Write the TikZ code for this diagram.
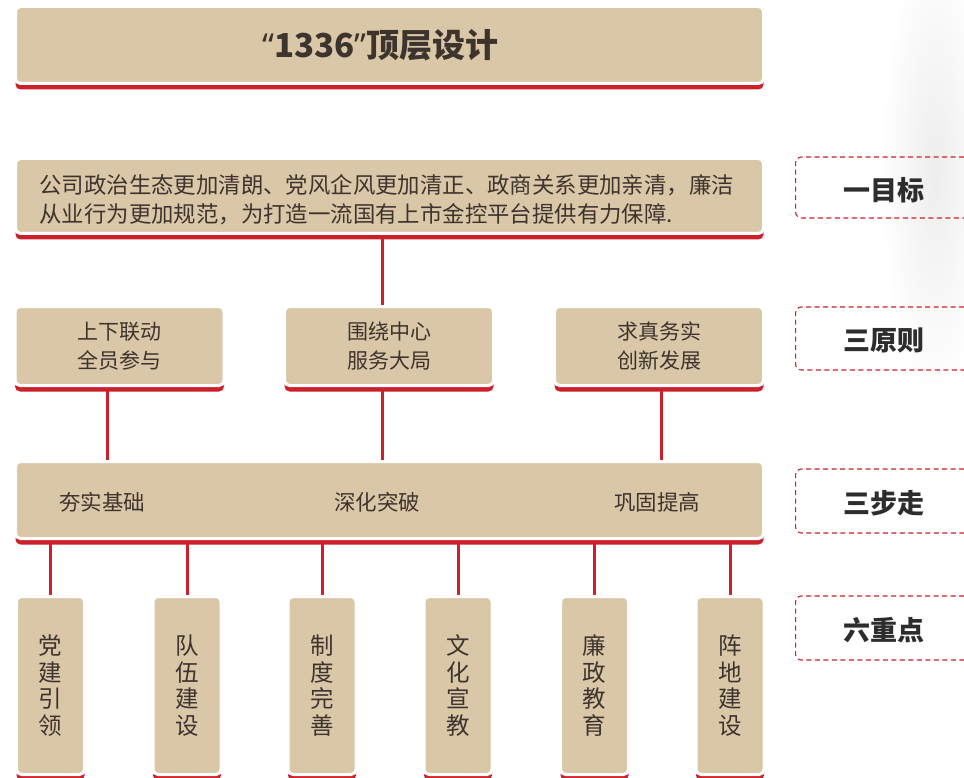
\documentclass[tikz,border=0pt]{standalone}
\usepackage{fontspec}
\setmainfont{Noto Sans CJK SC}
\newfontfamily\latinq{Noto Sans}
\usetikzlibrary{backgrounds}
\definecolor{tanfill}{RGB}{217,199,168}
\definecolor{bred}{RGB}{204,32,42}
\definecolor{txt}{RGB}{62,52,46}
\definecolor{lbl}{RGB}{45,45,45}
\tikzset{
  tanbox/.style={fill=tanfill, draw=white, line width=3pt, rounded corners=5pt,
    inner sep=0pt, text=txt,
    preaction={fill=bred, draw=none, transform canvas={yshift=-6pt}}},
  conn/.style={draw=bred, line width=3pt},
  lblframe/.style={draw=bred, line width=1.1pt, dash pattern=on 5pt off 3.5pt,
    rounded corners=6pt, minimum width=200pt, anchor=west, inner sep=0pt},
  lbltext/.style={text=lbl, font=\fontsize{27pt}{30pt}\selectfont\bfseries},
  steptext/.style={text=txt, font=\fontsize{21.5pt}{26pt}\selectfont},
  vbox/.style={tanbox, minimum width=68pt, minimum height=178pt,
    font=\fontsize{23.5pt}{26.5pt}\selectfont, align=center},
  pbox/.style={tanbox, minimum width=209pt, minimum height=79pt,
    font=\fontsize{21pt}{29pt}\selectfont, align=center},
}
\begin{document}
\begin{tikzpicture}[x=1pt,y=-1pt]
\useasboundingbox (0,0) rectangle (964,778);

% title
\node[tanbox, minimum width=748pt, minimum height=77pt,
  font=\fontsize{33pt}{36pt}\selectfont\bfseries] (title) at (389.5,45)
  {{\latinq “}1336{\latinq ”}顶层设计\hspace*{18pt}};

% goal
\node[tanbox, minimum width=748pt, minimum height=75pt] (goal) at (389.5,196) {};
\node[text=txt, align=left, text width=700pt, inner sep=0pt,
  font=\fontsize{22.4pt}{29pt}\selectfont] (goaltext) at (389.5,199.5)
  {公司政治生态更加清朗、党风企风更加清正、政商关系更加亲清，廉洁\\
   从业行为更加规范，为打造一流国有上市金控平台提供有力保障.};

% principles
\node[pbox] (p1) at (119.5,346) {上下联动\\全员参与};
\node[pbox] (p2) at (389,346) {围绕中心\\服务大局};
\node[pbox] (p3) at (659,346) {求真务实\\创新发展};

% steps
\node[tanbox, minimum width=748pt, minimum height=77pt] (steps) at (389.5,500) {};
\node[steptext] (s1) at (102,502) {夯实基础};
\node[steptext] (s2) at (377,502) {深化突破};
\node[steptext] (s3) at (657,502) {巩固提高};

% key points
\node[vbox] (k1) at (50.5,685.5) {党\\建\\引\\领};
\node[vbox] (k2) at (187,685.5) {队\\伍\\建\\设};
\node[vbox] (k3) at (322,685.5) {制\\度\\完\\善};
\node[vbox] (k4) at (458,685.5) {文\\化\\宣\\教};
\node[vbox] (k5) at (594.5,685.5) {廉\\政\\教\\育};
\node[vbox] (k6) at (730,685.5) {阵\\地\\建\\设};

% background and connectors
\begin{scope}[on background layer]
\fill[white] (0,0) rectangle (964,778);
\shade[inner color=black!7, outer color=white] (935,170) ellipse (55 and 230);
\draw[conn] ([xshift=-7pt]goal.south) -- ([xshift=-7pt]goal.south |- p2.north);
\draw[conn] ([xshift=-12pt]p1.south) -- ([xshift=-12pt]p1.south |- steps.north);
\draw[conn] ([xshift=-7pt]p2.south) -- ([xshift=-7pt]p2.south |- steps.north);
\draw[conn] ([xshift=2pt]p3.south) -- ([xshift=2pt]p3.south |- steps.north);
\foreach \k in {k1,k2,k3,k4,k5,k6}
  \draw[conn] (\k.north |- steps.south) -- (\k.north);
\end{scope}

% side labels
\begin{scope}
\clip (0,0) rectangle (964,778);
\node[lblframe, minimum height=61pt] (l1) at (795,187.5) {};
\node[lblframe, minimum height=63pt] (l2) at (795,338.5) {};
\node[lblframe, minimum height=64pt] (l3) at (795,501) {};
\node[lblframe, minimum height=64pt] (l4) at (795,628) {};
\end{scope}
\node[lbltext] (t1) at (884,190) {一目标};
\node[lbltext] (t2) at (884,340) {三原则};
\node[lbltext] (t3) at (884,503) {三步走};
\node[lbltext] (t4) at (884,630) {六重点};
\end{tikzpicture}
\end{document}
